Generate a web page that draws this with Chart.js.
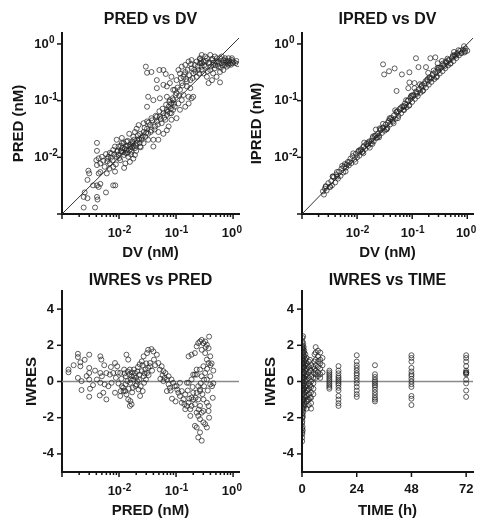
<!DOCTYPE html>
<html><head><meta charset="utf-8">
<script src="https://cdn.jsdelivr.net/npm/chart.js@4/dist/chart.umd.min.js"></script>
<style>
html,body{margin:0;padding:0;background:#fff;width:478px;height:518px;overflow:hidden}
canvas{position:absolute;left:0;top:0}
</style></head><body>
<canvas id="c1" width="478" height="518"></canvas>
<canvas id="c2" width="478" height="518"></canvas>
<canvas id="c3" width="478" height="518"></canvas>
<canvas id="c4" width="478" height="518"></canvas>
<script>
// ---------- data ----------
const dvA = [
0.0024,0.0038,0.0024,0.0028,0.0041,0.0042,0.0025,0.0059,0.0035,0.0041,0.0047,0.0044,0.0028,0.0079,0.0086,0.0029,0.0030,0.0044,0.0047,0.0041,0.0047,0.0053,0.0063,0.0041,0.0041,0.0040,0.0044,0.0050,0.0059,0.0065,0.0069,0.0069,0.0079,0.0085,0.0061,
0.0074,0.0079,0.0091,0.0098,0.0107,0.0115,0.012,0.0123,0.0135,0.0145,0.0155,0.0166,0.0174,0.019,0.0105,0.0129,0.0155,0.0178,0.0091,0.0112,0.0135,0.0085,0.0098,0.0178,0.0204,0.0151,0.0123,0.0112,0.0093,0.0132,
0.011,0.013,0.014,0.016,0.018,0.02,0.021,0.023,0.025,0.024,0.019,0.017,
0.0234,0.027,0.029,0.031,0.0324,0.035,0.037,0.04,0.043,0.046,0.049,0.052,0.056,0.06,0.065,0.069,0.074,0.078,0.083,0.0234,0.027,0.0324,0.04,0.049,0.06,0.069,0.074,0.083,0.089,0.046,0.037,0.031,0.027,0.025,0.0204,0.019,0.022,
0.0295,0.037,0.031,0.051,0.046,0.06,0.066,0.083,0.046,0.06,0.0324,0.089,0.031,0.04,0.069,0.052,0.069,0.078,0.095,
0.102,0.117,0.126,0.135,0.145,0.155,0.166,0.178,0.187,0.2,0.214,0.23,0.245,0.263,0.282,0.11,0.126,0.145,0.117,0.166,0.187,0.2,0.135,0.155,0.102,0.11,0.117,0.126,0.145,0.166,0.187,0.23,0.263,0.282,0.178,0.089,0.095,0.083,0.102,0.069,0.078,
0.302,0.324,0.347,0.372,0.398,0.427,0.447,0.479,0.513,0.55,0.59,0.63,0.676,0.724,0.776,0.832,0.89,0.955,1.01,0.447,0.347,0.59,0.302,0.372,0.427,0.513,0.676,0.776,0.324,0.398,0.263,0.282,0.479,0.55,0.63,0.832,0.59,0.282,0.955,0.724,1.1,1.15,1.2,
0.0056,0.0062,0.0068,0.0072,0.0077,0.0083,0.0088,0.0095,0.0101,0.0108,0.0118,0.0126,0.0138,0.0142,0.0149,0.0158,0.0163,0.0171,0.0185,0.0196,
0.0215,0.0225,0.026,0.028,0.03,0.033,0.036,0.038,0.042,0.044,0.048,0.051,0.054,0.058,0.062,0.067,0.071,0.076,0.081,0.087,0.092,0.098,
0.106,0.113,0.121,0.13,0.139,0.15,0.16,0.172,0.183,0.195,0.208,0.22,0.24,0.255,0.27,
0.31,0.335,0.36,0.385,0.41,0.435,0.46,0.49,0.52,0.57,0.61,0.66,0.7,0.75,0.8,0.86,0.92,0.98
];
const predA = [
0.0013,0.0013,0.0020,0.0019,0.0020,0.0018,0.0024,0.0024,0.0032,0.0032,0.0034,0.0030,0.0040,0.0032,0.0032,0.0058,0.0052,0.0052,0.0055,0.0073,0.0078,0.0087,0.0095,0.018,0.013,0.0089,0.0096,0.0102,0.0114,0.0102,0.012,0.0078,0.0068,0.0056,0.0052,
0.0117,0.0135,0.0102,0.0155,0.0126,0.0145,0.0178,0.011,0.0135,0.0102,0.0155,0.0126,0.0178,0.0145,0.0089,0.0078,0.0083,0.0095,0.0204,0.022,0.019,0.0155,0.011,0.023,0.0178,0.026,0.0065,0.0178,0.0126,0.0155,
0.013,0.012,0.016,0.014,0.016,0.013,0.02,0.018,0.022,0.015,0.011,0.019,
0.026,0.028,0.023,0.032,0.026,0.037,0.03,0.0204,0.035,0.043,0.028,0.052,0.04,0.06,0.046,0.056,0.078,0.06,0.089,0.0155,0.0178,0.0204,0.0155,0.0204,0.026,0.03,0.035,0.046,0.069,0.052,0.049,0.043,0.04,0.0204,0.032,0.028,0.037,
0.398,0.32,0.31,0.347,0.23,0.347,0.295,0.263,0.166,0.19,0.117,0.155,0.078,0.102,0.117,0.11,0.178,0.204,0.155,
0.135,0.155,0.204,0.263,0.32,0.178,0.117,0.23,0.372,0.302,0.427,0.263,0.347,0.457,0.398,0.089,0.102,0.078,0.069,0.089,0.11,0.117,0.126,0.219,0.23,0.347,0.302,0.398,0.427,0.49,0.52,0.49,0.54,0.347,0.166,0.102,0.078,0.06,0.049,0.069,0.102,
0.49,0.398,0.56,0.457,0.347,0.52,0.427,0.6,0.49,0.398,0.56,0.457,0.52,0.427,0.49,0.56,0.457,0.52,0.49,0.302,0.263,0.32,0.302,0.204,0.23,0.263,0.347,0.398,0.6,0.64,0.56,0.457,0.372,0.49,0.6,0.427,0.21,0.64,0.56,0.56,0.46,0.5,0.44,
0.0068,0.0085,0.0063,0.0098,0.0088,0.0112,0.0075,0.0132,0.0097,0.016,0.0123,0.0142,0.0118,0.0195,0.0132,0.0168,0.0112,0.0152,0.0205,0.0162,
0.0245,0.021,0.0235,0.033,0.027,0.041,0.028,0.045,0.031,0.054,0.038,0.065,0.047,0.072,0.05,0.085,0.064,0.095,0.072,0.11,0.088,0.125,
0.17,0.122,0.25,0.185,0.29,0.24,0.35,0.28,0.44,0.25,0.35,0.32,0.4,0.3,0.5,
0.42,0.5,0.33,0.47,0.4,0.55,0.47,0.42,0.56,0.45,0.38,0.42,0.47,0.51,0.45,0.5,0.43,0.46
];

const dvB = [
0.0024,0.0025,0.0026,0.0028,0.0030,0.0032,0.0034,0.0035,0.0038,0.0040,0.0042,0.0045,0.0047,0.0050,
0.0052,0.0056,0.0060,0.0063,0.0068,0.0071,0.0076,0.0079,0.0083,0.0089,0.0095,0.010,0.0105,0.011,0.0117,0.0126,0.0132,0.0141,0.0148,0.0158,0.0166,0.0178,0.0191,0.020,0.0209,0.0224,0.024,0.0251,0.0263,0.0282,0.030,0.0316,
0.0331,0.0355,0.0372,0.0398,0.0417,0.0447,0.0468,0.050,0.0525,0.0562,0.0589,0.063,0.066,0.071,0.074,0.079,0.083,0.089,0.093,0.10,
0.105,0.112,0.117,0.126,0.132,0.141,0.148,0.158,0.166,0.178,0.186,0.20,0.209,0.224,0.234,0.251,0.263,0.282,0.295,0.316,
0.331,0.355,0.372,0.398,0.417,0.447,0.468,0.50,0.525,0.562,0.589,0.631,0.661,0.708,0.741,0.794,0.832,0.891,0.933,1.0,0.91,
0.0115,0.013,0.016,0.019,0.022,0.025,0.029,0.034,0.04,0.046,0.055,0.07,0.085,0.095,0.12,0.15,0.19,0.24,0.3,0.36,0.45,0.55,0.65,0.0058,0.0065,0.0043,0.0036,0.0027,
0.0296,0.031,0.038,0.048,0.065,0.089,0.117,0.13,0.178,0.214,0.263,0.29,0.052,0.085,0.089,0.11,
0.00269,0.00324,0.00363,0.00437,0.00537,0.00617,0.00724,0.00851,0.00933,0.01072,0.0123,0.0135,0.0155,0.017,0.0195,0.0219,0.0234,0.0269,0.0295,0.0347,
0.0389,0.0437,0.049,0.055,0.0617,0.0692,0.0776,0.0871,0.0977,0.11,0.123,0.138,0.155,0.174,0.195,0.219,0.245,0.275,0.309,0.347,
0.389,0.437,0.49,0.55,0.617,0.692,0.776,0.871,0.0129,0.0182,0.0257,0.0363,0.0513,0.0724,0.102,0.145,0.204,0.288,0.407,0.575
];
const ipredB = [
0.0025,0.0022,0.0028,0.0026,0.0035,0.0030,0.0038,0.0032,0.0045,0.0036,0.0050,0.0042,0.0056,0.0047,
0.0063,0.0054,0.0076,0.0066,0.0083,0.0072,0.0095,0.0079,0.0105,0.0091,0.0115,0.010,0.0126,0.0107,0.0138,0.0126,0.0158,0.0141,0.0174,0.0158,0.0191,0.0174,0.0219,0.0191,0.024,0.0219,0.0263,0.024,0.030,0.0269,0.0339,0.0295,
0.038,0.0331,0.0437,0.038,0.050,0.0427,0.055,0.0479,0.063,0.0537,0.0708,0.060,0.079,0.068,0.089,0.076,0.10,0.083,0.112,0.095,
0.126,0.107,0.145,0.12,0.158,0.138,0.182,0.151,0.20,0.17,0.229,0.191,0.251,0.214,0.282,0.24,0.316,0.269,0.347,0.302,
0.38,0.331,0.427,0.372,0.468,0.417,0.513,0.457,0.562,0.50,0.631,0.562,0.692,0.631,0.759,0.692,0.794,0.708,0.832,0.759,0.74,
0.0132,0.0118,0.0182,0.0172,0.0245,0.0225,0.033,0.031,0.047,0.04,0.065,0.08,0.1,0.12,0.14,0.19,0.24,0.3,0.38,0.45,0.52,0.6,0.66,0.0068,0.0075,0.0055,0.0046,0.0031,
0.437,0.29,0.33,0.37,0.29,0.316,0.56,0.39,0.39,0.56,0.58,0.457,0.148,0.166,0.209,0.204,
0.00302,0.00302,0.00457,0.00457,0.00708,0.00562,0.00832,0.01175,0.00832,0.01318,0.0123,0.0182,0.017,0.0148,0.0234,0.0309,0.0224,0.0316,0.0389,0.0316,
0.049,0.0457,0.0676,0.049,0.0741,0.0692,0.102,0.0813,0.123,0.166,0.132,0.195,0.148,0.219,0.309,0.245,0.339,0.257,0.38,0.501,
0.407,0.55,0.447,0.631,0.617,0.776,0.692,0.912,0.0151,0.0195,0.0324,0.0407,0.0631,0.0794,0.12,0.174,0.257,0.38,0.49,0.724
];

const predC = [
0.0013,0.0013,0.0019,0.0019,0.0021,0.0021,0.0019,0.0022,0.0022,0.003,
0.003,0.003,0.003,0.0031,0.003,0.0047,0.0049,0.0047,0.005,0.0047,
0.0046,0.0041,0.006,0.0069,0.0079,0.0056,0.0065,0.0074,0.0053,0.006,
0.0085,0.0093,0.0105,0.0098,0.0085,0.0105,0.012,0.0112,0.0135,0.0145,
0.0155,0.0166,0.0178,0.019,0.0204,0.022,0.0234,0.0145,0.0166,0.0155,
0.0123,0.0132,0.014,0.0151,0.0158,0.0174,0.0182,0.02,0.021,0.0229,
0.025,0.027,0.029,0.031,0.0324,0.035,0.024,0.026,0.0275,0.0296,
0.0129,0.0135,0.0107,0.0158,0.025,0.027,0.031,0.0324,0.037,0.04,
0.046,0.041,0.035,0.049,0.052,0.06,0.056,0.065,0.069,0.074,
0.078,0.069,0.083,0.089,0.095,0.06,0.053,0.074,0.102,0.11,
0.117,0.126,0.135,0.145,0.155,0.166,0.178,0.187,0.2,0.214,
0.23,0.245,0.126,0.145,0.166,0.187,0.214,0.245,0.263,0.117,
0.155,0.2,0.23,0.166,0.187,0.214,0.23,0.245,0.263,0.282,
0.302,0.324,0.347,0.372,0.38,0.282,0.324,0.347,0.302,0.263,
0.23,0.372,0.398,0.324,0.282,0.347,0.398,0.31,0.263,0.23,
0.2,0.302,0.347,0.372,0.263,0.282,0.245,0.263,0.302,0.324,
0.347,0.23,0.263,0.245,0.282,0.302,0.372,0.398,0.427,0.187,
0.178,0.214,0.45,0.45,0.42,0.44,
0.0016,0.0025,0.0027,0.0035,0.0038,0.0055,0.0072,0.0088,0.0095,0.011,
0.0118,0.0125,0.013,0.0142,0.0148,0.016,0.0168,0.017,0.0185,0.0195,
0.021,0.0215,0.0225,0.023,0.026,0.028,0.03,0.033,0.038,0.043,
0.058,0.063,0.08,0.085,0.098,0.105,0.14,0.16,0.17,0.195,
0.22,0.25,0.27,0.29,0.31,0.33,0.35,0.36,0.38,0.4
];
const iwresC = [
0.66,0.51,1.53,1.35,1.06,0.84,0.2,0.02,-0.47,1.48,
0.75,0.47,0.11,-0.4,-0.84,1.39,1.21,0.47,0.29,-0.07,
-0.77,0.11,0.47,0.38,0.47,-0.16,-0.26,-0.07,-0.62,-0.99,
1.02,0.84,0.47,-0.11,-0.62,-0.8,-0.53,-0.26,1.48,1.21,
0.66,0.29,0.11,0.47,-0.16,-0.44,-0.8,-0.99,-1.26,-1.35,
0.66,0.29,0.02,0.38,-0.07,-0.35,0.66,0.2,0.02,0.38,
0.57,0.29,0.66,0.47,0.75,0.84,-0.26,-0.53,-0.07,0.11,
-0.53,-0.71,-0.53,-1.08,1.11,1.39,1.57,1.75,1.79,1.66,
1.48,1.21,1.02,1.02,0.66,0.57,0.84,0.47,0.11,-0.16,
-0.35,-0.53,0.11,-0.07,-0.26,0.02,0.15,0.29,-0.26,-0.62,
-0.8,-0.53,-0.99,-0.71,-1.35,-1.17,-1.53,-0.89,-0.62,-1.26,
-1.72,-0.99,-1.17,-1.53,-0.07,0.11,0.38,-0.26,-0.53,-0.07,
-0.07,0.38,0.66,1.39,1.48,1.57,1.94,2.12,2.21,2.3,
2.12,2.21,2.03,1.84,2.48,1.75,1.57,1.21,0.84,0.66,
0.38,1.02,1.39,0.47,0.29,0.11,-0.16,-0.26,-0.44,-0.62,
-0.99,-0.99,-1.17,-1.35,-1.35,-1.72,-1.9,-2.08,-2.26,-2.36,
-2.54,-2.54,-2.81,-3.09,-3.27,-1.63,-1.63,0.29,-0.26,-1.35,
-1.9,-2.45,0.6,-0.1,1.0,-0.9,
0.9,1.2,0.3,-0.2,0.6,0.9,0.8,0.2,0.5,0.15,
-0.35,0.45,-0.15,0.55,-0.4,0.1,0.5,-0.6,0.3,-0.25,
0.55,0.8,0.1,0.95,0.9,0.45,1.0,0.35,0.6,0.9,
0.35,0.2,-0.5,-0.95,-1.1,-0.45,-1.25,-0.5,-0.95,-0.3,
-0.9,-1.55,-0.1,-0.7,0.1,1.9,0.7,-0.5,-2.0,0.9
];

const timeD = [
0.08,0.08,0.08,0.08,0.08,0.08,0.08,0.08,0.08,
0.17,0.17,0.17,0.17,0.17,0.17,0.17,0.17,
0.25,0.25,0.25,0.25,0.25,0.25,0.25,0.25,0.25,0.25,0.25,0.25,0.25,0.25,0.25,
0.33,0.33,0.33,0.33,0.33,0.33,
0.5,0.5,0.5,0.5,0.5,0.5,0.5,0.5,0.5,0.5,0.5,0.5,0.5,
0.67,0.67,0.67,0.67,
0.75,0.75,0.75,0.75,0.75,0.75,0.75,0.75,0.75,0.75,0.75,
1,1,1,1,1,1,1,1,1,1,
1.5,1.5,1.5,1.5,1.5,1.5,1.5,1.5,1.5,1.5,
2,2,2,2,2,2,2,2,2,2,
2.5,2.5,2.5,2.5,
3,3,3,3,3,3,3,3,3,
3.5,3.5,3.5,3.5,
4,4,4,4,4,4,4,4,4,
5,5,5,5,5,5,
5.5,5.5,5.5,
6,6,6,6,6,6,6,
7,7,7,7,7,7,
8,8,8,8,8,8,
9,9,9,
12,12,12,12,12,12,12,12,12,12,12,
16,16,16,16,16,16,16,16,16,16,16,16,16,16,16,
24,24,24,24,24,24,24,24,24,24,24,24,24,24,
32,32,32,32,32,32,32,32,32,32,32,32,32,32,
48,48,48,48,48,48,48,48,48,48,48,48,48,48,
72,72,72,72,72,72,72,72,72,72,72,72,72
];
const iwresD = [
-3.3,-3.1,-2.8,-2.6,-2.3,-2.0,-1.8,-1.5,-1.2,
1.8,1.2,0.7,0.2,-0.5,-1.0,-2.2,-2.9,
2.4,2.2,1.9,1.6,1.3,1.0,0.6,0.3,0.0,-0.3,-0.7,-1.1,-1.6,-2.0,-2.5,
2.0,1.0,0.0,-1.0,-1.9,-2.7,
2.5,2.1,1.8,1.5,1.2,0.9,0.5,0.2,-0.2,-0.5,-0.9,-1.3,-1.7,
1.6,0.8,-0.4,-1.5,
1.9,1.6,1.3,1.0,0.7,0.4,0.1,-0.2,-0.6,-1.0,-1.4,
1.7,1.4,1.1,0.8,0.5,0.2,-0.1,-0.4,-0.8,-1.2,
1.5,1.2,0.9,0.6,0.3,0.0,-0.3,-0.6,-0.9,-1.3,
1.3,1.0,0.7,0.4,0.1,-0.2,-0.5,-0.8,-1.1,-1.5,
0.9,0.3,-0.5,-1.0,
1.1,0.8,0.5,0.2,-0.1,-0.4,-0.7,-1.0,-1.3,
1.2,0.6,-0.2,-0.9,
0.9,0.6,0.3,0.0,-0.3,-0.6,-0.9,-1.2,-1.5,
0.8,0.5,0.2,-0.1,-0.4,-0.7,
1.5,1.1,0.7,
1.9,1.6,1.2,0.9,0.6,0.4,0.2,
1.7,1.4,1.1,0.8,0.5,0.3,
1.6,1.2,1.0,0.7,0.4,0.2,
1.3,0.9,0.5,
0.6,0.5,0.4,0.3,0.2,0.1,0.0,-0.1,-0.2,-0.3,-0.4,
0.85,0.6,0.45,0.3,0.2,0.1,0.0,-0.1,-0.2,-0.35,-0.5,-0.8,-1.0,-1.2,-1.35,
1.45,1.1,0.9,0.75,0.6,0.45,0.35,0.2,0.05,-0.1,-0.3,-0.5,-0.7,-0.85,
0.9,0.4,0.25,0.1,0.0,-0.1,-0.2,-0.3,-0.45,-0.6,-0.75,-0.9,-1.0,-1.1,
1.45,1.3,1.1,0.75,0.55,0.4,0.3,0.15,0.0,-0.15,-0.3,-0.8,-0.95,-1.3,
1.45,1.3,1.1,0.85,0.6,0.5,0.5,0.45,0.4,0.1,-0.1,-0.5,-0.85
];

// axis ranges and tick labels
const logMin = 0.001, logMaxX = 1.27, logMaxY = 1.56;
const logLabelValues = [0.01, 0.1, 1];
const logLabelBase = '10';
const logLabelExps = ['-2', '-1', '0'];
const iwresTicks = [-4, -2, 0, 2, 4];
const timeTicks = [0, 24, 48, 72];
const iwresMin = -5, iwresMax = 5, timeMin = 0, timeMax = 75;
const identityLine = [0.001, 1.6];

// ---------- styling ----------
const FONT = "'Liberation Sans', Arial, Helvetica, 'DejaVu Sans', sans-serif";
const INK = '#151515';
const PT = 'rgba(35,35,35,0.72)';
const EXP_GAP = '\u2007\u200A';
const fontOf = (size) => ({family: FONT, size, weight: 'bold', lineHeight: 1});

const tickMarks = {
  id: 'tickMarks',
  afterDraw(chart) {
    const ctx = chart.ctx;
    ctx.save();
    ctx.strokeStyle = INK;
    ctx.lineWidth = 1.5;
    for (const s of Object.values(chart.scales)) {
      const isLog = s.type === 'logarithmic';
      for (const t of s.ticks) {
        const v = t.value;
        let len = 5;
        if (isLog) {
          const m = v / Math.pow(10, Math.floor(Math.log10(v) + 1e-9));
          if (Math.abs(m - 1) < 1e-6) len = 5;
          else if (s.isHorizontal() && Math.abs(m - Math.round(m)) < 1e-6) len = 3;
          else continue;
        }
        const p = s.getPixelForValue(v);
        ctx.beginPath();
        if (s.isHorizontal()) { ctx.moveTo(p, s.top); ctx.lineTo(p, s.top + len); }
        else { ctx.moveTo(s.right, p); ctx.lineTo(s.right - len, p); }
        ctx.stroke();
      }
    }
    // exponents of the 10^n labels
    for (const s of Object.values(chart.scales)) {
      if (s.type !== 'logarithmic') continue;
      ctx.font = 'bold 13px ' + FONT;
      const wBase = ctx.measureText(logLabelBase).width;
      const wFull = ctx.measureText(logLabelBase + EXP_GAP).width;
      let items = [];
      try { items = s.getLabelItems ? s.getLabelItems() : []; } catch (e) { items = []; }
      ctx.font = 'bold 10px ' + FONT;
      ctx.fillStyle = INK;
      ctx.textAlign = 'left';
      ctx.textBaseline = 'alphabetic';
      logLabelValues.forEach((v, i) => {
        const p = s.getPixelForValue(v);
        let x, yMid;
        if (s.isHorizontal()) {
          yMid = s.top + 5 + 8 + 6.5;
          const it = items.find(it => it.label && Math.abs(it.options.translation[0] - p) < 1.5);
          if (it) {
            const bl = it.options.textBaseline;
            const y0 = it.options.translation[1] + (it.textOffset || 0);
            yMid = bl === 'top' ? y0 + 6.5 : bl === 'bottom' ? y0 - 6.5 : y0;
          }
          x = p - wFull / 2 + wBase + 0.3;
        } else {
          yMid = p;
          x = s.right - 4 - 1 - wFull + wBase + 0.3;
        }
        ctx.fillText(logLabelExps[i], x, yMid - 1);
      });
    }
    ctx.restore();
  }
};

function logCallback(v) {
  const i = logLabelValues.findIndex(t => Math.abs(v - t) < t * 1e-6);
  return i < 0 ? '' : logLabelBase + EXP_GAP;
}

function xLog(title) {
  return {
    type: 'logarithmic', position: 'bottom', min: logMin, max: logMaxX,
    border: {display: true, color: INK, width: 2},
    grid: {display: true, drawOnChartArea: false, drawTicks: true, tickLength: 5, tickColor: 'rgba(0,0,0,0)'},
    ticks: {autoSkip: false, maxRotation: 0, padding: 8, color: INK, font: fontOf(13), callback: logCallback},
    title: {display: true, text: title, color: INK, font: fontOf(15), padding: {top: 0, bottom: 0}},
    afterFit: s => { s.height = 46; s.paddingLeft = 0; s.paddingRight = 0; }
  };
}
function yLog(title, w, tpad) {
  return {
    type: 'logarithmic', position: 'left', min: logMin, max: logMaxY,
    border: {display: true, color: INK, width: 2},
    grid: {display: true, drawOnChartArea: false, drawTicks: true, tickLength: 4, tickColor: 'rgba(0,0,0,0)'},
    ticks: {autoSkip: false, padding: 1, color: INK, font: fontOf(13), callback: logCallback},
    title: {display: true, text: title, color: INK, font: fontOf(15), padding: {top: tpad, bottom: 0}},
    afterFit: s => { s.width = w; s.paddingTop = 0; s.paddingBottom = 0; }
  };
}
function yIwres(w, tpad) {
  return {
    type: 'linear', position: 'left', min: iwresMin, max: iwresMax,
    border: {display: true, color: INK, width: 2},
    grid: {display: true, drawOnChartArea: false, drawTicks: true, tickLength: 5, tickColor: 'rgba(0,0,0,0)'},
    afterBuildTicks: s => { s.ticks = iwresTicks.map(v => ({value: v})); },
    ticks: {autoSkip: false, padding: 3, color: INK, font: fontOf(13), callback: v => String(v)},
    title: {display: true, text: 'IWRES', color: INK, font: fontOf(15), padding: {top: tpad, bottom: 0}},
    afterFit: s => { s.width = w; s.paddingTop = 0; s.paddingBottom = 0; }
  };
}
function xTime() {
  return {
    type: 'linear', position: 'bottom', min: timeMin, max: timeMax,
    border: {display: true, color: INK, width: 2},
    grid: {display: true, drawOnChartArea: false, drawTicks: true, tickLength: 5, tickColor: 'rgba(0,0,0,0)'},
    afterBuildTicks: s => { s.ticks = timeTicks.map(v => ({value: v})); },
    ticks: {autoSkip: false, maxRotation: 0, padding: 6, color: INK, font: fontOf(13), callback: v => String(v)},
    title: {display: true, text: 'TIME (h)', color: INK, font: fontOf(15), padding: {top: 0, bottom: 0}},
    afterFit: s => { s.height = 46; s.paddingLeft = 0; s.paddingRight = 0; }
  };
}

function pts(xs, ys) {
  return {
    type: 'scatter', order: 0,
    data: xs.map((x, i) => ({x, y: ys[i]})),
    pointStyle: 'circle', pointRadius: 2.5, pointBorderWidth: 1,
    pointBorderColor: PT, pointBackgroundColor: 'rgba(0,0,0,0)'
  };
}
function refLine(x0, x1, y0, y1, color, w) {
  return {
    type: 'line', order: 1,
    data: [{x: x0, y: y0}, {x: x1, y: y1}],
    borderColor: color, borderWidth: w, pointRadius: 0, fill: false
  };
}

function panel(id, box, title, titlePad, xs, ys, datasets) {
  return new Chart(document.getElementById(id), {
    type: 'scatter',
    data: {datasets},
    options: {
      responsive: false, animation: false, devicePixelRatio: 1, events: [],
      layout: {padding: box},
      plugins: {
        legend: {display: false}, tooltip: {enabled: false},
        title: {display: true, text: title, fullSize: false, color: INK, font: fontOf(16), padding: titlePad}
      },
      scales: {x: xs, y: ys}
    },
    plugins: [tickMarks]
  });
}

panel('c1', {left: 0, top: 0, right: 239, bottom: 258}, 'PRED vs DV', {top: 12, bottom: 5},
  xLog('DV (nM)'), yLog('PRED (nM)', 62, 11.5),
  [pts(dvA, predA), refLine(identityLine[0], identityLine[1], identityLine[0], identityLine[1], '#333', 1)]);

panel('c2', {left: 239, top: 0, right: 1, bottom: 258}, 'IPRED vs DV', {top: 12, bottom: 5},
  xLog('DV (nM)'), yLog('IPRED (nM)', 63, 10.5),
  [pts(dvB, ipredB), refLine(identityLine[0], identityLine[1], identityLine[0], identityLine[1], '#333', 1)]);

panel('c3', {left: 0, top: 260, right: 239, bottom: 0}, 'IWRES vs PRED', {top: 13, bottom: 2},
  xLog('PRED (nM)'), yIwres(62, 24.5),
  [pts(predC, iwresC), refLine(logMin, logMaxX, 0, 0, '#8a8a8a', 1.5)]);

panel('c4', {left: 239, top: 260, right: 1, bottom: 0}, 'IWRES vs TIME', {top: 13, bottom: 2},
  xTime(), yIwres(63, 24.5),
  [pts(timeD, iwresD), refLine(timeMin, timeMax, 0, 0, '#8a8a8a', 1.5)]);
</script>
</body></html>
